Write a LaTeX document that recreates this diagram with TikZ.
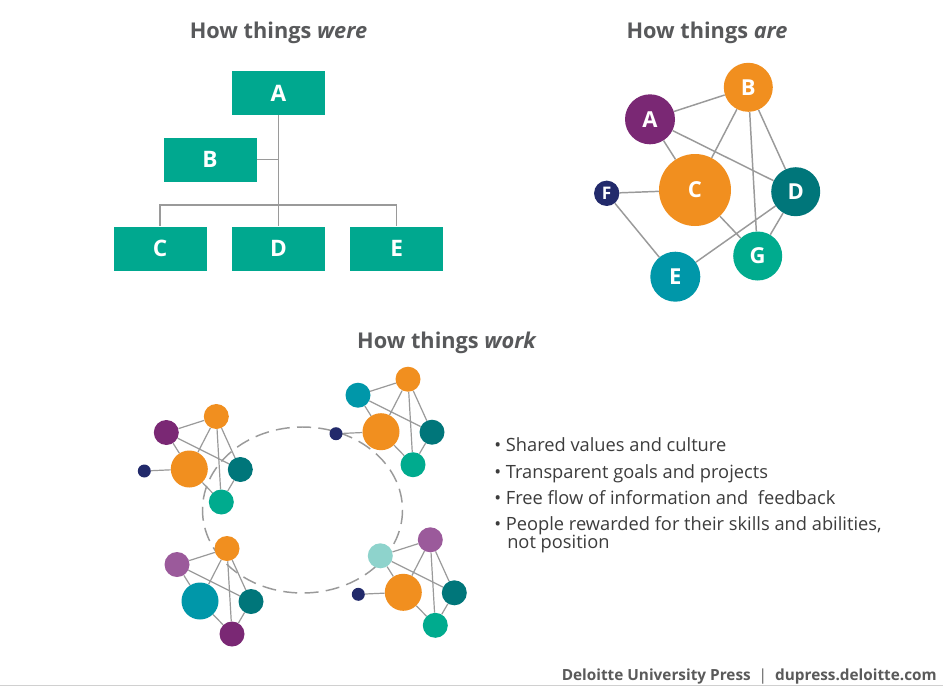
\documentclass[tikz,border=0pt]{standalone}
\usepackage{fontspec}
\setmainfont{Open Sans}
\usetikzlibrary{backgrounds}
\definecolor{boxgreen}{HTML}{00A88F}
\definecolor{corange}{HTML}{F18F1F}
\definecolor{cpurple}{HTML}{7A2874}
\definecolor{cdteal}{HTML}{00767A}
\definecolor{ctblue}{HTML}{0097A9}
\definecolor{cnavy}{HTML}{222A6B}
\definecolor{cgreen}{HTML}{00AB8E}
\definecolor{clpurple}{HTML}{9B5A9B}
\definecolor{clteal}{HTML}{8ED3CC}
\definecolor{linegray}{HTML}{9A9A9A}
\definecolor{titlegray}{HTML}{58595B}
\definecolor{textgray}{HTML}{3C3C3C}
\definecolor{footgray}{HTML}{5A5A5A}
\definecolor{rulegray}{HTML}{D0D0D0}
\tikzset{
  orgbox/.style={fill=boxgreen, minimum width=69.75pt, minimum height=33pt, inner sep=0pt, text=white, font=\bfseries\fontsize{17pt}{17pt}\selectfont},
  orgline/.style={draw=linegray, line width=1pt},
  bignode/.style={circle, inner sep=0pt, text=white, font=\bfseries\fontsize{16.5pt}{16.5pt}\selectfont},
  linkline/.style={draw=linegray, line width=1.1pt},
  clink/.style={draw=linegray, line width=0.9pt},
  cnode/.style={circle, inner sep=0pt, minimum size=18.75pt},
  cbig/.style={circle, inner sep=0pt, minimum size=27.75pt},
  csmall/.style={circle, inner sep=0pt, minimum size=9.75pt},
  ttl/.style={font=\bfseries\fontsize{16.3pt}{19pt}\selectfont, text=titlegray, anchor=base, inner sep=0pt},
  bul/.style={font=\fontsize{13.7pt}{16pt}\selectfont, text=textgray, anchor=base west, inner sep=0pt},
  foot/.style={font=\bfseries\fontsize{11.5pt}{13pt}\selectfont, text=footgray, anchor=base east, inner sep=0pt},
  ring/.style={draw=linegray, line width=1.1pt, dash pattern=on 10.5pt off 5.5pt}
}
% #1 prefix, #2 x, #3 y of C, #4 colA, #5 colB, #6 colC, #7 colD, #8 colG
\newcommand{\mkcluster}[8]{%
  \node[cnode, fill=#4] (#1A) at (#2-23, #3-36.5) {};
  \node[cnode, fill=#5] (#1B) at (#2+27, #3-52.5) {};
  \node[cbig, fill=#6] (#1C) at (#2, #3) {};
  \node[cnode, fill=#7] (#1D) at (#2+51, #3+0.5) {};
  \node[cnode, fill=#8] (#1G) at (#2+32, #3+33) {};
  \begin{pgfonlayer}{background}
    \draw[clink] (#1A) -- (#1B) (#1A) -- (#1C) (#1A) -- (#1D)
      (#1B) -- (#1C) (#1B) -- (#1G) (#1B) -- (#1D)
      (#1C) -- (#1G) (#1D) -- (#1G);
  \end{pgfonlayer}
}
% #1 prefix, #2 x, #3 y of C, #4 colour
\newcommand{\mkclusterF}[4]{%
  \node[csmall, fill=#4] (#1F) at (#2-45, #3+2) {};
  \begin{pgfonlayer}{background}
    \draw[clink] (#1C) -- (#1F);
  \end{pgfonlayer}
}
\begin{document}
\begin{tikzpicture}[x=0.75pt, y=-0.75pt]
\useasboundingbox (0,0) rectangle (943,686);
\begin{pgfonlayer}{background}
  \fill[white] (0,0) rectangle (943,686);
\end{pgfonlayer}

% ---------- How things were ----------
\node[ttl] (t1) at (278.5,38) {How things \textit{were}};
\node[orgbox] (oA) at (278.5,93) {A};
\node[orgbox] (oB) at (210,159.5) {B};
\node[orgbox] (oC) at (160,248.5) {C};
\node[orgbox] (oD) at (278.5,248.5) {D};
\node[orgbox] (oE) at (396.7,248.5) {E};
\coordinate (bus) at (278.5,205);
\draw[orgline] (oA.south) -- (oD.north);
\draw[orgline] (oB.east) -- (oB.east -| oA.south);
\draw[orgline] (oC.north) |- (bus) -| (oE.north);

% ---------- How things are ----------
\node[ttl] (t2) at (707,38) {How things \textit{are}};
\node[bignode, fill=cpurple, minimum size=37.5pt] (gA) at (650,119.3) {A};
\node[bignode, fill=corange, minimum size=36.75pt] (gB) at (748.3,87.3) {B};
\node[bignode, fill=corange, minimum size=54pt] (gC) at (695,190) {C};
\node[bignode, fill=cdteal, minimum size=36.75pt] (gD) at (795.7,191.7) {D};
\node[bignode, fill=ctblue, minimum size=37.5pt] (gE) at (675.3,276.7) {E};
\node[bignode, fill=cnavy, minimum size=19pt, font=\bfseries\fontsize{13pt}{13pt}\selectfont] (gF) at (606.7,193.3) {F};
\node[bignode, fill=cgreen, minimum size=36.75pt] (gG) at (757.7,256) {G};
\begin{pgfonlayer}{background}
  \draw[linkline] (gA) -- (gB) (gA) -- (gC) (gA) -- (gD)
    (gB) -- (gC) (gB) -- (gG) (gB) -- (gD)
    (gC) -- (gF) (gC) -- (gG) (gD) -- (gG)
    (gF) -- (gE) (gE) -- (gD);
\end{pgfonlayer}

% ---------- How things work ----------
\node[ttl] (t3) at (447,348) {How things \textit{work}};
\begin{pgfonlayer}{background}
  \draw[ring] (302.5,510) ellipse [x radius=100, y radius=83];
\end{pgfonlayer}
\mkcluster{tl}{189.3}{469}{cpurple}{corange}{corange}{cdteal}{cgreen}
\mkclusterF{tl}{189.3}{469}{cnavy}
\mkcluster{tr}{381}{431.7}{ctblue}{corange}{corange}{cdteal}{cgreen}
\mkclusterF{tr}{381}{431.7}{cnavy}
\mkcluster{bl}{200}{601}{clpurple}{corange}{ctblue}{cdteal}{cpurple}
\mkcluster{br}{403.3}{592.3}{clteal}{clpurple}{corange}{cdteal}{cgreen}
\mkclusterF{br}{403.3}{592.3}{cnavy}

\node[bul] (b1) at (494,451.5) {\textbullet\ Shared values and culture};
\node[bul] (b2) at (494,478) {\textbullet\ Transparent goals and projects};
\node[bul] (b3) at (494,504) {\textbullet\ Free flow of information and~ feedback};
\node[bul] (b4) at (494,530) {\textbullet\ People rewarded for their skills and abilities,};
\node[bul] (b5) at (507,548.3) {not position};

% ---------- footer ----------
\node[foot] (ft) at (937,680) {Deloitte University Press \ {\mdseries|}\ \ dupress.deloitte.com};
\draw[rulegray, line width=1pt] (0,685.5) -- (943,685.5);
\end{tikzpicture}
\end{document}
